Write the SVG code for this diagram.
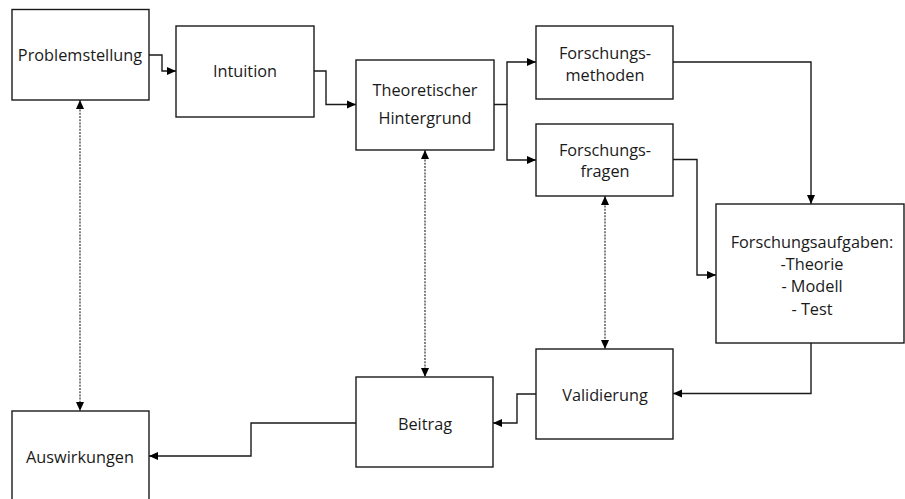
<svg xmlns="http://www.w3.org/2000/svg" width="905" height="499" viewBox="0 0 905 499">
<defs>
<style>
.box{fill:#fff;stroke:#1a1a1a;stroke-width:1.4}
.t{font-family:"Open Sans","Liberation Sans",Arial,sans-serif;font-size:16.3px;fill:#1a1a1a;text-anchor:middle}
.c{fill:none;stroke:#1a1a1a;stroke-width:1.4}
.d{fill:none;stroke:#333;stroke-width:1.2;stroke-dasharray:2 1.2}
</style>
<marker id="a" markerUnits="userSpaceOnUse" markerWidth="10" markerHeight="10" refX="9" refY="4" orient="auto-start-reverse" viewBox="0 0 10 8">
<path d="M0,0 L9,4 L0,8 Z" fill="#000"/>
</marker>
</defs>
<rect width="905" height="499" fill="#fff"/>
<g id="connectors">
<path class="c" d="M149,55 H162 V71 H176" marker-end="url(#a)"/>
<path class="c" d="M314,71 H326 V104.5 H356" marker-end="url(#a)"/>
<path class="c" d="M494,104.5 H507 V62 H536" marker-end="url(#a)"/>
<path class="c" d="M507,104.5 V160 H536" marker-end="url(#a)"/>
<path class="c" d="M673,62 H811 V204" marker-end="url(#a)"/>
<path class="c" d="M673,159.5 H697 V275 H716" marker-end="url(#a)"/>
<path class="c" d="M811,343 V393.5 H673" marker-end="url(#a)"/>
<path class="c" d="M536,394 H517 V423 H493" marker-end="url(#a)"/>
<path class="c" d="M356,423 H251 V456 H149" marker-end="url(#a)"/>
<path class="d" d="M80,100 V411" marker-start="url(#a)" marker-end="url(#a)"/>
<path class="d" d="M425,150 V377" marker-start="url(#a)" marker-end="url(#a)"/>
<path class="d" d="M605,196 V349" marker-start="url(#a)" marker-end="url(#a)"/>
</g>
<g id="problemstellung"><rect class="box" x="12" y="9.5" width="137" height="90.5"/><text class="t" x="80" y="61">Problemstellung</text></g>
<g id="intuition"><rect class="box" x="176" y="26" width="138" height="91"/><text class="t" x="245" y="77">Intuition</text></g>
<g id="theoretischer"><rect class="box" x="356" y="60" width="138" height="90"/><text class="t" x="425" y="96">Theoretischer</text><text class="t" x="425" y="124">Hintergrund</text></g>
<g id="methoden"><rect class="box" x="536" y="26" width="137" height="73"/><text class="t" x="605" y="58.5">Forschungs-</text><text class="t" x="605" y="80.5">methoden</text></g>
<g id="fragen"><rect class="box" x="536" y="124" width="137" height="72"/><text class="t" x="605" y="156">Forschungs-</text><text class="t" x="605" y="177">fragen</text></g>
<g id="aufgaben"><rect class="box" x="716" y="204" width="188" height="139"/><text class="t" x="812" y="247.5">Forschungsaufgaben:</text><text class="t" x="812" y="269.5">-Theorie</text><text class="t" x="812" y="292">- Modell</text><text class="t" x="812" y="314.5">- Test</text></g>
<g id="validierung"><rect class="box" x="536" y="349" width="137" height="90"/><text class="t" x="605" y="401">Validierung</text></g>
<g id="beitrag"><rect class="box" x="356" y="377" width="137" height="90"/><text class="t" x="425" y="429.5">Beitrag</text></g>
<g id="auswirkungen"><rect class="box" x="12" y="411" width="137" height="92"/><text class="t" x="80" y="463">Auswirkungen</text></g>
</svg>
